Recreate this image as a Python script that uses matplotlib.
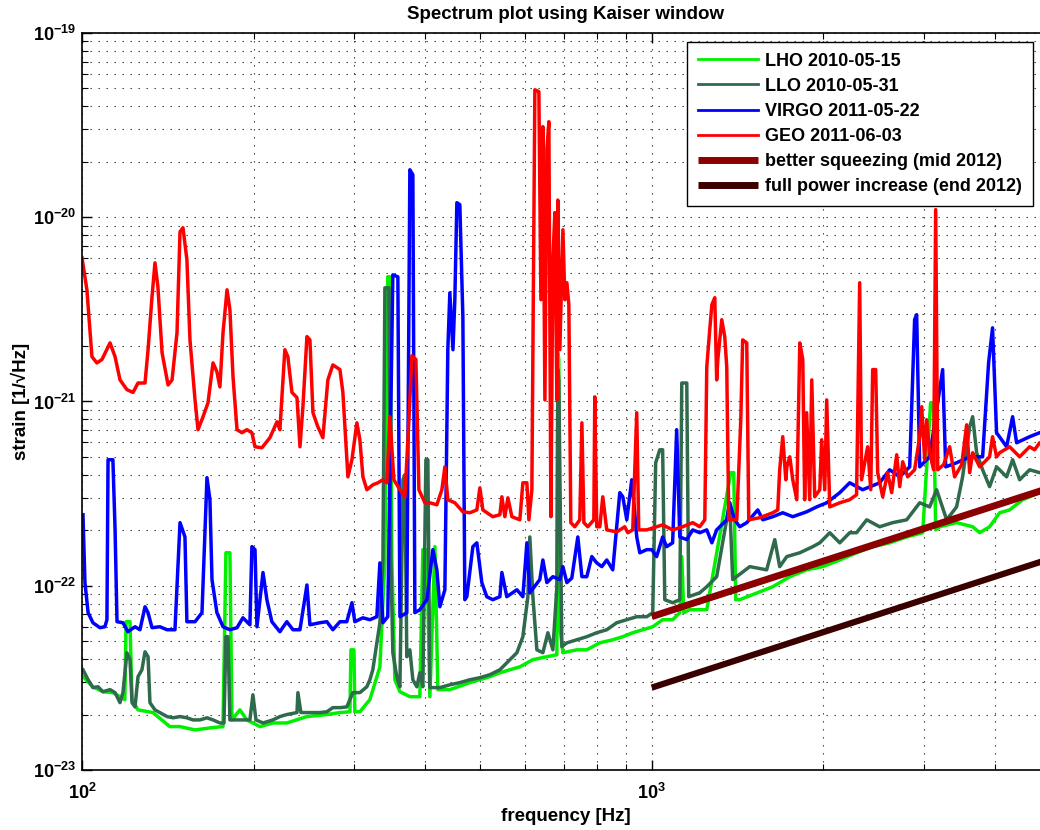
import numpy as np
import matplotlib
matplotlib.use("Agg")
import matplotlib.pyplot as plt
from matplotlib.ticker import FixedLocator, LogLocator, FuncFormatter, NullFormatter

plt.rcParams['font.family'] = ['Liberation Sans', 'DejaVu Sans']
plt.rcParams['mathtext.fontset'] = 'custom'
plt.rcParams['mathtext.bf'] = 'Liberation Sans:bold'
plt.rcParams['mathtext.rm'] = 'Liberation Sans'

UNIT = 1e-22  # strain values below are in units of 1e-22 1/sqrt(Hz)

# ---------------- data (frequency in Hz, strain in 1e-22) ----------------
geo_f = [100, 102, 104.1, 106.2, 108.4, 112, 114.3, 116.6, 119.9, 122.9, 125.4, 129.0, 130.6, 132.7, 134.3,
         135.9, 138.2, 141.6, 143.9, 146.8, 148.6, 150.4, 152.8, 154.7, 157.9, 159.8, 163.1, 166.4, 169.8,
         172.5, 174.6, 176.8, 179.7, 181.8, 184.1, 187.1, 190.9, 194.7, 198.7, 201.2, 206.9, 213.7, 219.9,
         222.5, 227.0, 229.8, 233.6, 238.4, 241.3, 244.2, 248.2, 251.2, 254.3, 259.4, 264.7, 270.1, 275.6,
         283.6, 287.0, 292.9, 297.7, 303.7, 307.4, 311.2, 316.2, 323.9, 330.6, 337.4, 342.8, 347.1, 352.7,
         361.4, 368.7, 374.8, 379.3, 385.5, 390.2, 399.8, 407.9, 419.6, 428.2, 433.4, 438.6, 451.2, 466.1,
         479.5, 493.2, 499.3, 505.3, 526.0, 541.3, 545.7, 552.3, 559.1, 568.2, 586.8, 594.0, 603.7, 608.6,
         616.0, 623.5, 633.7, 638.9, 644.0, 649.3, 654.5, 659.8, 665.2, 670.6, 676.0, 681.5, 684.2, 689.7,
         698.3, 703.9, 709.6, 715.3, 721.0, 732.7, 747.6, 754.0, 760.1, 772.4, 791.3, 794.3, 800.7, 810.6,
         820.4, 833.7, 868.1, 896.6, 907.6, 926.0, 933.6, 941.1, 948.8, 979.9, 1020, 1045, 1088, 1133, 1180,
         1214, 1239, 1249, 1264, 1275, 1290, 1300, 1306, 1327, 1343, 1354, 1365, 1410, 1433, 1444, 1468,
         1480, 1547, 1631, 1664, 1677, 1698, 1719, 1726, 1747, 1768, 1797, 1819, 1841, 1855, 1870, 1893,
         1909, 1932, 1972, 1987, 2012, 2028, 2053, 2138, 2225, 2288, 2317, 2335, 2393, 2423, 2442, 2472,
         2492, 2543, 2594, 2637, 2691, 2724, 2757, 2813, 2893, 2953, 2977, 3013, 3037, 3074, 3124, 3150,
         3176, 3253, 3333, 3401, 3499, 3570, 3614, 3658, 3763, 3917, 3964, 4029, 4080, 4247, 4423, 4605,
         4699, 4795, 4950]
geo_s = [60.3, 40.4, 17.5, 16.2, 16.9, 20.8, 17.5, 13.1, 11.6, 11.2, 12.6, 12.6, 19.1, 37.0, 56.6,
         41.9, 18.4, 12.3, 13.1, 23.6, 83.4, 87.7, 58.8, 21.6, 10.2, 7.03, 8.27, 9.84, 16.2,
         14.5, 12.0, 23.6, 40.4, 31.5, 13.6, 7.03, 6.77, 7.03, 6.77, 5.68, 5.61, 6.36, 7.76,
         7.03, 19.1, 17.5, 11.2, 10.5, 5.68, 9.36, 22.5, 21.6, 8.69, 7.29, 6.36, 13.1, 15.8,
         14.9, 11.2, 3.90, 4.83, 7.66, 6.2, 3.90, 3.32, 3.53, 3.62, 3.76, 3.62, 8.27, 3.76,
         3.32, 3.04, 7.96, 17.7, 16.9, 3.32, 2.82, 2.82, 2.75, 3.32, 4.42, 2.93, 2.82, 2.52,
         2.49, 2.58, 3.40, 2.58, 2.37, 2.43, 3.04, 2.37, 3.00, 2.37, 2.28, 3.62, 3.62, 2.28,
         3.32, 492, 480, 35.7, 310, 10.2, 232, 330, 2.37, 58.8, 106, 10.2, 124, 19.1,
         85.5, 35.7, 44.1, 33.5, 2.20, 2.09, 2.28, 7.66, 2.20, 2.09, 2.28, 10.6, 2.09, 2.09,
         3.04, 2.01, 1.96, 2.09, 1.94, 2.01, 4.26, 8.69, 2.01, 2.01, 2.09, 2.14, 2.01, 2.09, 2.20,
         2.09, 2.28, 15.4, 24.5, 33.5, 36.6, 13.1, 16.9, 27.8, 22.5, 15.4, 2.28, 2.28, 7.96, 21.6, 20.8,
         2.28, 2.34, 2.49, 2.58, 4.26, 6.44, 3.76, 4.42, 5.01, 3.76, 2.93, 20.8, 16.9, 2.93, 8.69, 2.93,
         13.1, 3.04, 3.32, 6.2, 3.32, 10.2, 2.68, 2.82, 2.93, 3.12, 44.1, 3.76, 5.68, 3.32, 14.9, 14.9,
         4.11, 3.04, 4.11, 3.20, 5.14, 3.45, 4.71, 3.90, 4.26, 6.44, 9.36, 4.83, 7.96, 5.27, 4.26, 110,
         4.26, 4.54, 5.68, 3.90, 4.54, 7.47, 4.11, 5.27, 4.42, 5.01, 6.44, 5.01, 5.27, 5.68, 5.01, 5.68,
         5.47, 5.97, 5.9]

virgo_f = [100.4, 101.2, 102.5, 104.5, 107.5, 109.7, 110.6, 111.1, 113.3, 114.3, 115.2, 118.0, 120.4,
           123.9, 126.4, 129.0, 130.6, 132.7, 137.0, 141.0, 145.6, 148.6, 151.6, 152.8, 157.9, 162.4,
           165.7, 167.7, 169.1, 172.5, 176.8, 181.8, 187.1, 191.6, 197.1, 198.7, 201.2, 202.8, 207.8,
           211.1, 215.4, 222.5, 228.8, 234.6, 241.3, 248.2, 251.2, 261.6, 269.0, 275.6, 283.6, 291.6,
           297.7, 301.2, 311.2, 320.1, 329.2, 333.3, 337.4, 344.1, 351.2, 358.4, 361.4, 371.6, 376.2,
           380.8, 383.9, 391.7, 403.0, 412.9, 419.6, 424.7, 433.4, 438.6, 442.2, 447.8, 451.2, 454.9,
           460.4, 466.1, 469.8, 473.6, 485.3, 493.2, 503.2, 513.4, 526.0, 541.3, 545.7, 556.6, 579.8,
           594.0, 603.7, 610.9, 636.1, 644.0, 654.5, 670.6, 689.7, 698.3, 709.6, 723.9, 741.7, 754.0,
           769.1, 784.8, 800.7, 817.2, 833.7, 854.3, 878.8, 889.6, 904.0, 922.4, 933.6, 941.1, 952.8,
           979.9, 1000, 1020, 1045, 1062, 1088, 1106, 1120, 1152, 1180, 1214, 1249, 1275, 1300, 1354,
           1370, 1398, 1427, 1468, 1535, 1566, 1631, 1698, 1768, 1870, 1948, 2028, 2138, 2225, 2345,
           2512, 2616, 2724, 2836, 2893, 2917, 2953, 3074, 3240, 3280, 3428, 3614, 3808, 3901, 3964,
           4029, 4196, 4299, 4369, 4605, 4795, 4950]
virgo_s = [2.43, 1.04, 0.714, 0.630, 0.592, 0.599, 0.654, 4.83, 4.83, 2.01, 0.638, 0.630, 0.563,
           0.599, 0.577, 0.769, 0.714, 0.592, 0.599, 0.577, 0.577, 2.20, 1.84, 0.638, 0.638, 0.714,
           3.86, 2.93, 1.08, 0.714, 0.599, 0.577, 0.592, 0.670, 0.614, 1.63, 1.57, 0.599, 1.18,
           0.84, 0.638, 0.563, 0.638, 0.577, 0.577, 1.01, 0.614, 0.630, 0.638, 0.577, 0.638, 0.638,
           0.809, 0.638, 0.670, 0.654, 0.679, 1.33, 0.630, 0.679, 48.7, 47.5, 0.679, 0.714, 181,
           170, 0.714, 0.741, 0.84, 1.57, 1.22, 0.769, 0.951, 19.1, 38.9, 19.1, 35.7, 120,
           117, 28.8, 0.84, 0.872, 1.63, 1.71, 1.04, 0.872, 0.84, 0.872, 1.18, 0.872, 0.951,
           0.872, 1.71, 0.916, 1.08, 1.38, 1.04, 1.12, 1.08, 1.27, 1.04, 1.10, 1.84, 1.12,
           1.12, 1.44, 1.33, 1.27, 1.38, 1.22, 3.20, 3.04, 2.28, 3.76, 2.49, 1.84, 1.51,
           1.57, 1.57, 1.44, 1.84, 1.63, 1.71, 7.03, 1.84, 1.78, 2.01, 1.94, 2.01, 1.71, 2.01, 2.28,
           2.82, 2.28, 2.09, 2.20, 2.58, 2.28, 2.37, 2.49, 2.37, 2.52, 2.68, 2.82, 3.20, 3.62, 3.32,
           3.62, 4.26, 3.90, 4.42, 27.8, 29.6, 4.42, 5.01, 14.9, 4.42, 4.65, 5.01, 5.01, 16.2, 25.1,
           6.77, 5.68, 8.27, 5.97, 6.44, 6.77, 6.9]

llo_f = [100.4, 102.5, 104.5, 106.7, 108.8, 112.0, 114.3, 116.6, 118.0, 119.9, 121.4, 122.4, 123.9, 125.4,
         127.4, 129.0, 130.6, 131.6, 134.3, 137.0, 141.0, 144.5, 148.6, 152.8, 156.6, 161.1, 165.7, 169.8,
         174.6, 177.5, 178.9, 180.4, 181.8, 187.1, 191.6, 197.1, 199.5, 202.0, 207.8, 216.3, 222.5, 228.8,
         238.4, 239.3, 242.2, 251.2, 261.6, 269.0, 275.6, 283.6, 291.6, 298.8, 307.4, 316.2, 320.1, 323.9,
         329.2, 333.3, 337.4, 340.1, 345.6, 348.4, 351.2, 356.8, 361.4, 365.9, 368.7, 371.6, 376.2, 380.8,
         387.0, 391.7, 396.5, 401.4, 404.6, 407.9, 424.7, 442.2, 460.4, 479.5, 499.3, 519.8, 541.3, 563.6,
         579.8, 594.0, 606.1, 610.9, 618.5, 628.6, 644.0, 657.2, 670.6, 681.5, 684.2, 686.9, 695.3, 709.6,
         738.7, 769.1, 800.7, 833.7, 868.1, 904.0, 941.1, 979.9, 1004, 1016, 1033, 1045, 1054, 1088, 1120,
         1129, 1152, 1161, 1214, 1249, 1300, 1370, 1387, 1486, 1591, 1644, 1677, 1726, 1819, 1917, 1972,
         2053, 2138, 2225, 2288, 2384, 2512, 2647, 2802, 2953, 3074, 3162, 3293, 3428, 3512, 3614, 3658,
         3717, 3808, 3917, 4029, 4196, 4299, 4423, 4605, 4795, 4950]
llo_s = [0.350, 0.309, 0.280, 0.283, 0.266, 0.273, 0.263, 0.232, 0.263, 0.433, 0.397, 0.232, 0.220, 0.321,
         0.350, 0.438, 0.412, 0.232, 0.212, 0.205, 0.195, 0.192, 0.195, 0.192, 0.187, 0.187, 0.192, 0.187,
         0.180, 0.180, 0.529, 0.529, 0.187, 0.187, 0.187, 0.187, 0.256, 0.187, 0.180, 0.187, 0.195, 0.200,
         0.205, 0.263, 0.205, 0.205, 0.205, 0.207, 0.218, 0.218, 0.220, 0.263, 0.263, 0.283, 0.309, 0.350,
         0.490, 0.630, 1.38, 41.4, 41.4, 1.38, 0.433, 0.321, 0.283, 3.76, 4.00, 0.412, 0.449, 0.309,
         0.283, 0.337, 0.283, 4.83, 4.83, 0.280, 0.280, 0.290, 0.298, 0.309, 0.317, 0.329, 0.350, 0.397,
         0.433, 0.529, 0.872, 1.84, 0.872, 0.449, 0.433, 0.556, 0.449, 0.988, 14.9, 13.1, 0.467, 0.490,
         0.509, 0.529, 0.556, 0.577, 0.630, 0.654, 0.679, 0.679, 0.714, 4.65, 5.47, 5.47, 0.84, 0.809, 0.84,
         12.6, 12.6, 0.872, 0.916, 0.988, 1.12, 2.82, 1.08, 1.27, 1.22, 1.78, 1.27, 1.44, 1.51, 1.63, 1.71,
         1.94, 1.71, 1.94, 1.94, 2.28, 2.09, 2.20, 2.28, 2.82, 2.68, 3.32, 2.28, 2.68, 3.90, 7.29, 8.27,
         5.27, 4.26, 3.45, 4.42, 3.90, 4.83, 3.76, 4.26, 4.11, 4.2]

lho_f = [100.4, 104.5, 108.8, 113.3, 116.6, 118.9, 119.5, 121.4, 122.4, 125.4, 133.2, 142.6, 148.6, 157.9,
         169.8, 176.8, 178.9, 181.8, 183.3, 189.3, 194.7, 205.3, 216.3, 228.8, 248.2, 269.0, 283.6, 295.3,
         296.5, 300.1, 301.2, 307.4, 320.1, 333.3, 340.1, 344.1, 347.1, 349.8, 354.1, 361.4, 376.2, 391.7,
         396.5, 403.0, 407.9, 416.3, 421.3, 442.2, 479.5, 519.8, 541.3, 563.6, 586.8, 618.5, 654.5, 681.5,
         684.2, 686.9, 689.7, 698.3, 738.7, 769.1, 810.6, 854.3, 889.6, 926.0, 964.3, 1004, 1045, 1088,
         1120, 1129, 1138, 1166, 1214, 1249, 1376, 1393, 1404, 1427, 1631, 1747, 1870, 1995, 2138, 2288,
         2442, 2616, 2802, 2989, 3086, 3124, 3150, 3202, 3428, 3658, 3763, 3917, 4080, 4247, 4477, 4795,
         4950]
lho_s = [0.321, 0.283, 0.266, 0.263, 0.250, 0.241, 0.638, 0.638, 0.241, 0.212, 0.205, 0.172, 0.172, 0.165,
         0.170, 0.172, 1.51, 1.51, 0.187, 0.212, 0.187, 0.172, 0.180, 0.180, 0.195, 0.200, 0.205, 0.207,
         0.449, 0.449, 0.207, 0.207, 0.241, 0.363, 1.38, 47.5, 47.5, 1.38, 0.309, 0.266, 0.250, 0.250,
         1.57, 1.57, 0.250, 1.63, 0.273, 0.273, 0.298, 0.321, 0.337, 0.350, 0.363, 0.397, 0.412, 0.422,
         18.4, 16.9, 0.599, 0.433, 0.449, 0.449, 0.490, 0.509, 0.529, 0.556, 0.577, 0.599, 0.654, 0.654,
         0.714, 1.44, 0.714, 0.741, 0.741, 0.741, 4.11, 4.11, 0.84, 0.84, 0.988, 1.12, 1.22, 1.27, 1.38, 1.51,
         1.63, 1.71, 1.84, 1.94, 9.84, 9.84, 2.01, 2.09, 2.20, 2.09, 1.94, 2.09, 2.49, 2.58, 2.93, 3.20,
         3.3]

squeeze_f = [1000, 5000]
squeeze_s = [0.68, 3.4]
fullpower_f = [1000, 5000]
fullpower_s = [0.28, 1.4]

x_major = [1e2, 1e3]
y_major = [1e-23, 1e-22, 1e-21, 1e-20, 1e-19]

labels = ['LHO 2010-05-15', 'LLO 2010-05-31', 'VIRGO 2011-05-22', 'GEO 2011-06-03',
          'better squeezing (mid 2012)', 'full power increase (end 2012)']
colors = ['#00f000', '#2f6a4c', '#0000ff', '#ff0000', '#8b0000', '#3a0000']

# ---------------- figure ----------------
fig = plt.figure(figsize=(10.4, 8.3), dpi=100)
ax = fig.add_axes([82 / 1040, 60 / 830, 968 / 1040, 737 / 830])

ax.plot(lho_f, np.array(lho_s) * UNIT, color=colors[0], lw=2.5, label=labels[0])
ax.plot(llo_f, np.array(llo_s) * UNIT, color=colors[1], lw=2.5, label=labels[1])
ax.plot(virgo_f, np.array(virgo_s) * UNIT, color=colors[2], lw=2.5, label=labels[2])
ax.plot(geo_f, np.array(geo_s) * UNIT, color=colors[3], lw=2.5, label=labels[3])
ax.plot(squeeze_f, np.array(squeeze_s) * UNIT, color=colors[4], lw=5, label=labels[4],
        solid_capstyle='butt')
ax.plot(fullpower_f, np.array(fullpower_s) * UNIT, color=colors[5], lw=4.5, label=labels[5],
        solid_capstyle='butt')

ax.set_xscale('log')
ax.set_yscale('log')
ax.set_xlim(100, 5000)
ax.set_ylim(1e-23, 1e-19)

ax.xaxis.set_major_locator(FixedLocator(x_major))
ax.yaxis.set_major_locator(FixedLocator(y_major))
ax.xaxis.set_minor_locator(LogLocator(base=10, subs=np.arange(2, 10), numticks=20))
ax.yaxis.set_minor_locator(LogLocator(base=10, subs=np.arange(2, 10), numticks=20))
fmt = FuncFormatter(lambda v, p: r'$\mathbf{10^{%d}}$' % int(round(np.log10(v))))
ax.xaxis.set_major_formatter(fmt)
ax.yaxis.set_major_formatter(fmt)
ax.xaxis.set_minor_formatter(NullFormatter())
ax.yaxis.set_minor_formatter(NullFormatter())
ax.tick_params(which='both', direction='in', top=True, right=True, labelsize=13)
ax.tick_params(which='major', length=7, width=1)
ax.tick_params(which='minor', length=4, width=0.8)
ax.tick_params(axis='x', which='major', pad=9)
ax.tick_params(axis='y', which='major', pad=4)

ax.grid(True, which='both', color='#333333', linewidth=0.8, linestyle=(0, (1.2, 6)))
for s in ax.spines.values():
    s.set_linewidth(1.2)

ax.set_title('Spectrum plot using Kaiser window', fontsize=13.5, fontweight='bold', pad=10)
ax.set_xlabel('frequency [Hz]', fontsize=13.5, fontweight='bold', labelpad=4)
ax.set_ylabel('strain [1/\u221aHz]', fontsize=13.5, fontweight='bold', labelpad=2)

leg = ax.legend(loc='upper right', bbox_to_anchor=(0.982, 0.988), borderaxespad=0,
                fancybox=False, framealpha=1, edgecolor='black',
                prop={'weight': 'bold', 'size': 13}, handlelength=3.3,
                handletextpad=0.4, labelspacing=0.45, borderpad=0.6)
leg.get_frame().set_linewidth(1.0)
for h, lw in zip(leg.get_lines(), [2, 2, 2, 2, 5, 5]):
    h.set_linewidth(lw)

fig.savefig('out.png', dpi=100)
